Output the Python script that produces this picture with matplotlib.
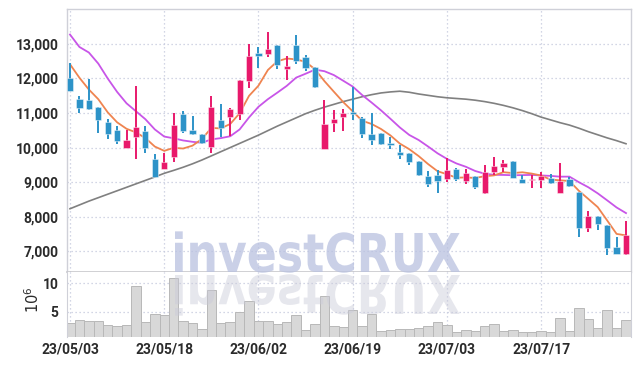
import matplotlib
matplotlib.use('Agg')
import matplotlib.pyplot as plt
from matplotlib.textpath import TextPath
from matplotlib.patches import PathPatch
from matplotlib.font_manager import FontProperties
from matplotlib.ticker import FuncFormatter
import matplotlib.transforms as mtransforms
import logging
logging.getLogger('matplotlib.font_manager').setLevel(logging.ERROR)

# ---------------- data ----------------
tick_idx = [0, 10, 20, 30, 40, 50]
tick_labels = ["23/05/03", "23/05/18", "23/06/02", "23/06/19", "23/07/03", "23/07/17"]

opens = [12020, 11400, 11370, 11170, 10740, 10500, 10000, 10310, 10480, 9670,
         9370, 9720, 10960, 10500, 10380, 10030, 10810, 10870, 10960, 11930,
         12730, 12700, 12960, 12260, 12960, 12620, 12320, 9965, 10715, 10880,
         11035, 10855, 10390, 10420, 10130, 9870, 9840, 9600, 9175, 9215,
         9100, 9375, 9040, 9175, 8695, 9300, 9445, 9610, 9090, 9050,
         9070, 9130, 8695, 9090, 8715, 7685, 8010, 7760, 7125, 6930]
highs = [12460, 11500, 11970, 11180, 10820, 10620, 10500, 11790, 10610, 9800,
         9850, 11000, 11060, 10910, 10400, 11500, 11250, 11140, 11960, 13010,
         12910, 13330, 12980, 12650, 13270, 12680, 12330, 11370, 11085, 11105,
         11760, 10870, 10990, 10430, 10310, 10070, 9850, 9610, 9330, 9350,
         9690, 9400, 9370, 9180, 9495, 9715, 9635, 9615, 9215, 9205,
         9280, 9245, 9545, 9155, 8720, 8165, 8020, 7770, 7410, 7875]
lows = [11640, 11000, 11080, 10430, 10250, 10090, 10000, 9660, 9840, 9150,
        9370, 9590, 10410, 10360, 10100, 9850, 10300, 10340, 10800, 11730,
        12290, 12620, 12270, 11950, 12430, 12210, 11730, 9960, 10440, 10480,
        10795, 10265, 10060, 10060, 9950, 9660, 9495, 9185, 8870, 8675,
        8995, 9040, 8935, 8810, 8650, 9205, 9300, 9120, 8980, 8820,
        8820, 8960, 8690, 8870, 7405, 7550, 7615, 6890, 6920, 6890]
closes = [11650, 11150, 11110, 10800, 10390, 10200, 10215, 10590, 9980, 9160,
          9580, 10650, 10490, 10400, 10120, 11180, 10580, 11130, 11950, 12645,
          12650, 12850, 12385, 12355, 12510, 12305, 11760, 10680, 10825, 11000,
          10975, 10400, 10215, 10100, 10070, 9790, 9590, 9215, 8945, 9040,
          9350, 9090, 9255, 8870, 9290, 9470, 9550, 9130, 8985, 9100,
          9185, 8965, 9030, 8880, 7685, 8010, 7780, 7105, 6930, 7470]
volumes = [3.07, 3.54, 3.3, 3.3, 2.66, 2.48, 2.66, 9.52, 3.19, 4.6,
           4.42, 10.93, 3.36, 3.0, 1.9, 8.82, 3.0, 3.19, 4.95, 6.88,
           3.36, 3.36, 2.83, 3.19, 4.42, 1.78, 2.83, 7.76, 2.48, 2.25,
           5.3, 2.48, 4.6, 1.6, 1.78, 1.95, 1.95, 2.13, 2.48, 3.19,
           2.66, 1.43, 1.78, 1.6, 2.48, 2.83, 1.66, 1.78, 1.43, 1.43,
           1.6, 1.43, 3.9, 1.6, 5.65, 3.72, 2.13, 5.3, 2.13, 3.54]
ma5 = [12410, 12020, 11680, 11400, 11020, 10730, 10543, 10439, 10275, 10029,
       9905, 9992, 9972, 10056, 10248, 10568, 10554, 10682, 10992, 11497,
       11791, 12245, 12496, 12577, 12550, 12481, 12263, 11922, 11616, 11314,
       11048, 10776, 10683, 10538, 10352, 10115, 9953, 9753, 9522, 9316,
       9228, 9128, 9136, 9121, 9171, 9195, 9287, 9262, 9285, 9247,
       9190, 9073, 9053, 9032, 8749, 8514, 8277, 7892, 7502, 7459]
ma10 = [13270, 12910, 12750, 12430, 12000, 11610, 11280, 11050, 10820, 10525,
        10318, 10268, 10206, 10166, 10139, 10237, 10273, 10327, 10524, 10873,
        11180, 11400, 11589, 11785, 12024, 12136, 12254, 12209, 12097, 11932,
        11765, 11520, 11303, 11077, 10833, 10582, 10365, 10218, 10030, 9834,
        9672, 9541, 9445, 9322, 9244, 9212, 9208, 9199, 9203, 9209,
        9193, 9180, 9158, 9159, 8998, 8852, 8675, 8473, 8267, 8104]
ma60 = [8230, 8340, 8450, 8550, 8650, 8750, 8850, 8950, 9050, 9150,
        9255, 9340, 9430, 9530, 9640, 9760, 9880, 10000, 10120, 10240,
        10360, 10490, 10620, 10740, 10860, 10980, 11080, 11170, 11250, 11330,
        11400, 11470, 11530, 11580, 11610, 11630, 11600, 11550, 11510, 11470,
        11440, 11420, 11400, 11370, 11330, 11280, 11220, 11150, 11070, 10980,
        10880, 10800, 10720, 10650, 10560, 10460, 10370, 10280, 10200, 10110]

# ---------------- style ----------------
UP = '#e8196b'
DOWN = '#2d93c8'
C_MA5 = '#ef8450'
C_MA10 = '#c855e8'
C_MA60 = '#808080'
GRID = '#c4c9dd'
SPINE = '#cfd0d8'
TXT = '#2b2b2b'
plt.rcParams['font.family'] = ['Roboto', 'DejaVu Sans']

W, H = 639, 366
fig = plt.figure(figsize=(W / 100, H / 100), dpi=100)
fig.patch.set_facecolor('white')

L, R = 66.7, 631.0
T, M, B = 9.3, 272.0, 337.3
axp = fig.add_axes([L / W, 1 - M / H, (R - L) / W, (M - T) / H])
axv = fig.add_axes([L / W, 1 - B / H, (R - L) / W, (B - M) / H], sharex=axp)

x = list(range(len(closes)))

# moving averages
axp.plot(x, ma60, color=C_MA60, lw=1.2, zorder=2)
axp.plot(x, ma10, color=C_MA10, lw=1.3, zorder=2)
axp.plot(x, ma5, color=C_MA5, lw=1.3, zorder=2)

# candles
for i in x:
    o, h, l, c = opens[i], highs[i], lows[i], closes[i]
    col = UP if c >= o else DOWN
    axp.vlines(i, l, h, color=col, lw=1.4, zorder=3)
    bot = min(o, c)
    ht = max(abs(c - o), 40)
    axp.bar(i, ht, bottom=bot, width=0.66, color=col, edgecolor=(1, 1, 1, 0.5),
            linewidth=0.6, zorder=4)

axp.set_xlim(-0.35, 59.53)
axp.set_ylim(6400, 14000)
axp.set_yticks([7000, 8000, 9000, 10000, 11000, 12000, 13000])
axp.yaxis.set_major_formatter(FuncFormatter(lambda v, p: f"{int(v):,}"))
axp.set_xticks(tick_idx)
axp.grid(True, linestyle=(0, (1, 2.2)), color=GRID, lw=0.9, zorder=0)
axp.tick_params(axis='both', length=0, labelsize=10, labelcolor=TXT, pad=6)
axp.tick_params(axis='x', labelbottom=False)
for lab in axp.get_yticklabels():
    lab.set_fontweight('bold')
for s in ['top', 'right', 'left']:
    axp.spines[s].set_color(SPINE)
    axp.spines[s].set_linewidth(1.0)
axp.spines['bottom'].set_color('#c8c8cc')
axp.spines['bottom'].set_linewidth(1.2)

# volume
axv.bar(x, volumes, width=1.0, color='#d8d8d8', edgecolor='#b8b8b8', linewidth=0.7, zorder=2)
axv.set_ylim(0.49, 12.0)
axv.set_yticks([5, 10])
axv.set_yticklabels(['5', '10'])
axv.set_xticks(tick_idx)
axv.set_xticklabels(tick_labels)
axv.grid(True, linestyle=(0, (1, 2.2)), color=GRID, lw=0.9, zorder=0)
axv.tick_params(axis='both', length=0, labelsize=10, labelcolor=TXT)
axv.tick_params(axis='y', pad=6)
axv.tick_params(axis='x', pad=4)
for lab in axv.get_yticklabels() + axv.get_xticklabels():
    lab.set_fontweight('bold')
axv.spines['top'].set_visible(False)
for s in ['right', 'left', 'bottom']:
    axv.spines[s].set_color(SPINE)
axv.spines['bottom'].set_visible(False)
fig.text(33 / W, 1 - 300 / H, r'$10^6$', rotation=90, ha='center', va='center',
         fontsize=10.5, color=TXT)

# watermark with reflection
prop = FontProperties(family='DejaVu Sans', weight='bold')
tp = TextPath((0, 0), 'investCRUX', size=1, prop=prop)
bb = tp.get_extents()
x0, x1 = 175.0, 460.0
cap = 39.0
sy = cap / 0.729
sx = (x1 - x0) / bb.width
to_fig = mtransforms.Affine2D().scale(1 / W, 1 / H) + fig.transFigure
tr_main = mtransforms.Affine2D().translate(-bb.x0, 0).scale(sx, sy).translate(x0, H - 272) + to_fig
tr_ref = mtransforms.Affine2D().translate(-bb.x0, 0).scale(sx, -sy).translate(x0, H - 275) + to_fig
fig.add_artist(PathPatch(tp, transform=tr_main, facecolor='#b9c1e0', edgecolor='none', alpha=0.75, zorder=5))
fig.add_artist(PathPatch(tp, transform=tr_ref, facecolor='#c9cad8', edgecolor='none', alpha=0.45, zorder=5))

fig.savefig('out.png', dpi=100, facecolor='white')
